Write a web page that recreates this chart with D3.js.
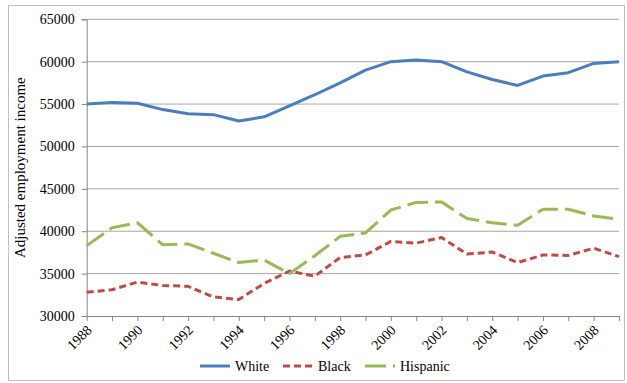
<!DOCTYPE html>
<html>
<head>
<meta charset="utf-8">
<script src="https://cdn.jsdelivr.net/npm/d3@7"></script>
<style>
  html, body { margin: 0; padding: 0; background: #fff; }
  svg { display: block; }
  svg text { font-family: "Liberation Serif", "Times New Roman", Tinos, "DejaVu Serif", serif; fill: #000; }
</style>
</head>
<body>
<svg id="chart" width="627" height="383"></svg>
<script>
// Adjusted employment income by race, 1988–2009
const years = d3.range(1988, 2010);
const white = [55000, 55200, 55100, 54350, 53850, 53750, 53000, 53500, 54800, 56100,
               57500, 59000, 60000, 60200, 60000, 58800, 57900, 57200, 58300, 58700, 59800, 60000];
const black = [32800, 33100, 34000, 33600, 33500, 32250, 31950, 33850, 35300, 34700,
               36900, 37200, 38800, 38600, 39250, 37300, 37550, 36300, 37200, 37150, 38000, 37000];
const hispanic = [38300, 40400, 41000, 38400, 38500, 37400, 36300, 36600, 35000, 37100,
                  39400, 39800, 42500, 43400, 43450, 41500, 41000, 40700, 42600, 42600, 41800, 41400];
const yTicks = [30000, 35000, 40000, 45000, 50000, 55000, 60000, 65000];
const xLabelYears = years.filter(y => (y - 1988) % 2 === 0);

const series = [
  { name: "White",    values: white,    color: "#4A7EBB", dash: null },
  { name: "Black",    values: black,    color: "#BE4B48", dash: "7,4" },
  { name: "Hispanic", values: hispanic, color: "#98B954", dash: "21,7" }
];

const svg = d3.select("#chart");
const plot = { left: 86.7, right: 619, top: 19.3, bottom: 316 };

// chart frame
svg.append("rect")
  .attr("x", 8.5).attr("y", 5.5).attr("width", 616).attr("height", 375)
  .attr("fill", "none").attr("stroke", "#bfbfbf").attr("stroke-width", 1);

const x = d3.scalePoint().domain(years).range([plot.left, plot.right]);
const y = d3.scaleLinear().domain([30000, 65000]).range([plot.bottom, plot.top]);

// horizontal gridlines
svg.append("g").selectAll("line")
  .data(yTicks.slice(1))
  .join("line")
  .attr("x1", plot.left).attr("x2", plot.right)
  .attr("y1", d => y(d)).attr("y2", d => y(d))
  .attr("stroke", "#a6a6a6").attr("stroke-width", 1);

// y axis
const yAxis = svg.append("g")
  .attr("transform", `translate(${plot.left},0)`)
  .call(d3.axisLeft(y).tickValues(yTicks).tickSize(5).tickPadding(7).tickFormat(d3.format("d")));
yAxis.attr("font-family", null).attr("font-size", null);
yAxis.select(".domain").attr("stroke", "#868686");
yAxis.selectAll(".tick line").attr("stroke", "#868686");
yAxis.selectAll("text").style("font-size", "14px");

// x axis
const xAxis = svg.append("g")
  .attr("transform", `translate(0,${plot.bottom})`)
  .call(d3.axisBottom(x).tickValues(years).tickSize(5).tickSizeOuter(0).tickFormat(""));
xAxis.attr("font-family", null).attr("font-size", null);
xAxis.select(".domain").attr("stroke", "#868686");
xAxis.selectAll(".tick line").attr("stroke", "#868686");

svg.append("g").selectAll("text")
  .data(xLabelYears)
  .join("text")
  .attr("transform", d => `translate(${x(d) - 1},${plot.bottom + 8}) rotate(-45)`)
  .attr("text-anchor", "end")
  .attr("dy", "0.7em")
  .style("font-size", "14px")
  .text(d => d);

// y axis title
svg.append("text")
  .attr("transform", `translate(25,${(plot.top + plot.bottom) / 2}) rotate(-90)`)
  .attr("text-anchor", "middle")
  .style("font-size", "15px")
  .text("Adjusted employment income");

// lines
const line = d3.line()
  .x((d, i) => x(years[i]))
  .y(d => y(d));

svg.append("g").selectAll("path")
  .data(series)
  .join("path")
  .attr("d", d => line(d.values))
  .attr("fill", "none")
  .attr("stroke", d => d.color)
  .attr("stroke-width", 3)
  .attr("stroke-linejoin", "round")
  .attr("stroke-dasharray", d => d.dash);

// legend
const legendX = [200, 283, 365];
const legend = svg.append("g").selectAll("g")
  .data(series)
  .join("g")
  .attr("transform", (d, i) => `translate(${legendX[i]},366)`);
legend.append("line")
  .attr("x1", 0).attr("x2", 30)
  .attr("stroke", d => d.color)
  .attr("stroke-width", 3)
  .attr("stroke-dasharray", d => d.dash);
legend.append("text")
  .attr("x", 35)
  .attr("dy", "0.35em")
  .style("font-size", "14px")
  .text(d => d.name);
</script>
</body>
</html>
